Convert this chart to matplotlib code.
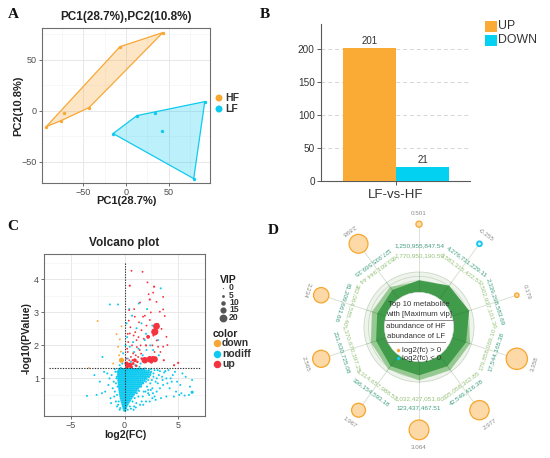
import matplotlib
matplotlib.use("Agg")
import matplotlib.pyplot as plt
import numpy as np
from matplotlib.patches import Circle, Polygon, Rectangle

plt.rcParams['font.family'] = ['Liberation Sans', 'DejaVu Sans']

W, H = 550, 458

# ---------------- panel A data (PCA scores)
hf_pc1 = [-93, -75.6, -72, -43, -7, 43]
hf_pc2 = [-15.7, -9.8, -2, 3, 62.7, 76.5]
lf_pc1 = [-15, 12.8, 33.7, 41.9, 91.9, 79]
lf_pc2 = [-22.5, -4.9, -2, -19.6, 8.8, -66.7]

# ---------------- panel B data
groups = ["LF-vs-HF"]
up_counts = [201]
down_counts = [21]

# ---------------- panel C data (volcano)
red_x = [0.65, 1.68, 2.14, 2.76, 0.49, 2.67, 2.36, 2.98, 3.6, 0.43, 3.29, 3.6, 3.75, 0.96, 1.73,
         2.36, 2.98, 2.82, 1.58, 2.2, 0.49, 1.12, 3.91, 4.0, 3.6, 1.42, 0.8, 3.13, 2.36, 2.82,
         1.89, 0.96, 0.49, 0.19, 3.66, 4.62, 5.0, 1.27, 0.3, 0.6, 0.7, 1.0, 1.2, 1.5, 1.6, 2.0,
         2.6, 2.8, 0.15, 0.35, 0.55, 1.35, 1.9, 2.45, 0.9, 3.0, 0.22, 0.36, 0.65, 0.8, 1.1, 2.5,
         0.25, 0.45, 0.75, 1.05, 1.3, 1.55, 1.8, 2.05, 2.7, 3.05, 3.35, 0.4, 0.85, 1.45, 2.25,
         3.1, 0.3, 1.15, 2.65, 3.45]
red_y = [4.26, 4.23, 3.91, 3.78, 3.81, 3.6, 3.39, 3.32, 3.47, 3.07, 3.02, 3.09, 2.89, 2.87, 2.87,
         2.77, 2.58, 2.41, 2.46, 2.26, 2.36, 2.16, 2.26, 2.01, 1.96, 1.86, 1.76, 1.96, 1.58, 1.58,
         1.55, 1.55, 1.40, 1.45, 1.55, 1.40, 1.47, 1.65, 1.8, 1.65, 2.0, 2.4, 1.5, 2.0, 1.6, 2.0,
         2.0, 1.8, 1.6, 2.1, 2.55, 2.7, 2.9, 3.0, 3.1, 2.15, 1.35, 1.38, 1.35, 1.45, 1.38, 1.5,
         1.9, 1.55, 1.55, 1.7, 2.25, 1.75, 2.2, 2.6, 2.3, 2.45, 1.8, 2.75, 2.3, 3.3, 3.55,
         2.65, 2.35, 1.95, 1.65, 2.5]
red_vip = [2, 2, 2, 3, 3, 2, 3, 2, 2, 2, 2, 2, 2, 2, 2,
           2, 17, 18, 2, 8, 2, 2, 2, 2, 2, 2, 2, 2, 16, 15,
           16, 8, 12, 9, 3, 3, 3, 2, 2, 2, 2, 2, 4, 2, 4, 3,
           2, 2, 2, 2, 2, 2, 2, 2, 2, 2, 6, 6, 5, 5, 4, 7,
           2, 2, 3, 2, 2, 2, 2, 2, 3, 2, 2, 2, 2, 2, 2,
           2, 2, 2, 3, 2]

orange_x = [-2.51, -0.28, -0.74, -0.44, -0.6, -0.34, -0.28, -1.06, -3.32, -0.5]
orange_y = [2.74, 2.58, 2.34, 2.18, 1.96, 1.81, 1.55, 1.45, 1.32, 1.7]
orange_vip = [2, 2, 2, 2, 2, 2, 12, 2, 1, 2]

cyan_sparse_x = [-1.37, -0.6, 1.33, 3.38, 1.58, 1.89, 3.13, 0.49, 1.12, 0.19, 2.67, 2.05, -0.13,
                 -2.05, 0.25, 0.6, 1.0, 1.5, 0.3, -0.2, -0.45, 0.8, 1.3, 2.4, 2.0, 1.7, 0.7, 0.45,
                 2.1, 2.6, 3.2, 1.4, 0.9, 0.1,
                 -0.8, -0.9, -1.0, -1.2, -0.75, -0.85, -1.5, -1.8, -2.1, -2.6, -3.5, -1.3, -0.7,
                 -2.3, -1.6, -0.9, 2.0, 2.3, 2.6, 2.9, 3.2, 2.5, 3.6, 3.9, 4.2, 4.5, 4.8, 5.1,
                 5.3, 5.6, 6.0, 6.3, 5.4, 5.7, 6.3, 2.2, 2.7, 3.0, 3.4, 1.8, 1.6, 2.1, 1.9, 2.4,
                 2.8, 3.3, 3.7, 4.1, 4.4, 1.3, 1.1, 0.9, 0.6, -0.4, -0.55, 4.9, 5.2, 6.1, 2.0,
                 2.6, 3.5, 4.6, 2.9, 3.1, 2.2, 1.75, 2.45,
                 -0.7, -0.65, -0.72, -0.68, -0.8, -1.1, -0.95, -0.6, -0.45, 0.3, 0.5, 0.75, 0.95,
                 1.15, 1.35, 1.55, 1.75, 2.0, 2.3, 2.55, 2.7, 3.0, 3.1, 2.45, 2.65, 1.45, 1.7,
                 1.95, 2.2, 2.35, 2.8, 3.3, 3.55, 3.8, 4.0, 4.3, 4.7, 3.9, 0.85, 1.05, -1.4,
                 -1.9, -1.25, -2.8, -0.35, 0.7, 1.9, 2.25]
cyan_sparse_y = [3.24, 3.24, 3.27, 3.73, 2.67, 2.16, 2.16, 1.96, 2.52, 2.67, 1.86, 1.86, 1.76,
                 1.65, 2.25, 1.5, 1.4, 1.45, 1.6, 1.45, 1.4, 2.1, 1.9, 2.0, 2.35, 1.7, 2.9, 3.1,
                 3.1, 2.6, 1.7, 1.35, 1.8, 2.0,
                 0.3, 0.6, 0.9, 1.1, 1.0, 1.2, 0.8, 0.6, 0.55, 0.5, 0.47, 0.4, 0.15,
                 0.9, 1.15, 1.28, 0.3, 0.5, 0.7, 0.9, 1.1, 1.2, 0.8, 1.0, 0.7, 1.1, 0.6, 0.5,
                 0.55, 0.48, 0.5, 0.58, 1.15, 1.05, 0.95, 0.95, 1.05, 0.6, 0.4, 0.6, 0.3, 0.75,
                 1.0, 0.85, 1.25, 1.22, 1.18, 1.25, 0.9, 0.45, 0.25, 0.15, 0.08, 0.1, 0.3, 0.9,
                 0.8, 0.75, 1.18, 0.4, 1.05, 0.45, 0.35, 0.85, 0.55, 0.2, 0.65,
                 0.5, 0.75, 1.05, 1.2, 0.85, 0.7, 0.45, 0.2, 0.05, 0.05, 0.15, 0.3, 0.4,
                 0.55, 0.62, 0.75, 0.85, 0.9, 1.05, 0.95, 1.15, 1.0, 1.25, 1.28, 0.55, 0.2, 0.45,
                 0.6, 0.65, 0.3, 0.45, 0.7, 0.95, 1.22, 0.85, 1.0, 1.2, 0.45, 0.05, 0.12, 1.0,
                 1.2, 0.25, 1.1, 1.32, 1.33, 1.3, 1.25]

# dense cloud of non-significant metabolites, read row by row: (-log10 p, [log2 FC ...])
cyan_core_rows = [
    (0.03, [-0.02, 0.05]),
    (0.09, [-0.08, 0.02, 0.11]),
    (0.15, [-0.14, -0.03, 0.08, 0.18]),
    (0.21, [-0.18, -0.06, 0.06, 0.17, 0.28]),
    (0.27, [-0.24, -0.11, 0.02, 0.14, 0.26, 0.38]),
    (0.33, [-0.28, -0.15, -0.02, 0.11, 0.24, 0.37, 0.5]),
    (0.39, [-0.33, -0.19, -0.05, 0.08, 0.21, 0.34, 0.47, 0.62]),
    (0.45, [-0.37, -0.23, -0.09, 0.05, 0.18, 0.31, 0.45, 0.59, 0.74]),
    (0.51, [-0.4, -0.26, -0.12, 0.02, 0.16, 0.29, 0.43, 0.57, 0.71, 0.86]),
    (0.57, [-0.43, -0.29, -0.15, -0.01, 0.13, 0.27, 0.41, 0.55, 0.69, 0.84, 1.0]),
    (0.63, [-0.46, -0.32, -0.18, -0.04, 0.1, 0.24, 0.38, 0.52, 0.66, 0.81, 0.96, 1.12]),
    (0.69, [-0.48, -0.34, -0.2, -0.06, 0.08, 0.22, 0.36, 0.5, 0.64, 0.79, 0.94, 1.1, 1.26]),
    (0.75, [-0.5, -0.36, -0.22, -0.08, 0.06, 0.2, 0.34, 0.48, 0.62, 0.77, 0.92, 1.08, 1.24, 1.4]),
    (0.81, [-0.52, -0.38, -0.24, -0.1, 0.04, 0.18, 0.32, 0.46, 0.6, 0.75, 0.9, 1.06, 1.22, 1.38, 1.55]),
    (0.87, [-0.54, -0.4, -0.26, -0.12, 0.02, 0.16, 0.3, 0.44, 0.58, 0.73, 0.88, 1.04, 1.2, 1.36,
            1.53, 1.7]),
    (0.93, [-0.56, -0.42, -0.28, -0.14, 0.0, 0.14, 0.28, 0.42, 0.56, 0.71, 0.86, 1.02, 1.18, 1.34,
            1.51, 1.68, 1.86]),
    (0.99, [-0.57, -0.43, -0.29, -0.15, -0.01, 0.13, 0.27, 0.41, 0.55, 0.7, 0.85, 1.0, 1.16, 1.32,
            1.49, 1.66, 1.84, 2.02]),
    (1.05, [-0.58, -0.44, -0.3, -0.16, -0.02, 0.12, 0.26, 0.4, 0.54, 0.69, 0.84, 0.99, 1.15, 1.31,
            1.47, 1.64, 1.82, 2.0, 2.2]),
    (1.11, [-0.59, -0.45, -0.31, -0.17, -0.03, 0.11, 0.25, 0.39, 0.53, 0.68, 0.83, 0.98, 1.14, 1.3,
            1.46, 1.63, 1.8, 1.98, 2.17, 2.38]),
    (1.17, [-0.58, -0.44, -0.3, -0.16, -0.02, 0.12, 0.26, 0.4, 0.54, 0.69, 0.84, 0.99, 1.15, 1.31,
            1.47, 1.64, 1.81, 1.99, 2.18, 2.4]),
    (1.23, [-0.55, -0.41, -0.27, -0.13, 0.01, 0.15, 0.29, 0.43, 0.57, 0.72, 0.87, 1.02, 1.18, 1.34,
            1.51, 1.68, 1.86, 2.05, 2.26]),
    (1.28, [-0.5, -0.36, -0.22, -0.08, 0.06, 0.2, 0.34, 0.48, 0.63, 0.78, 0.93, 1.09, 1.25, 1.42,
            1.6, 1.8]),
]

vip_legend = [0, 5, 10, 15, 20]

# ---------------- panel D data (top 10 metabolites by VIP), clockwise from top
spoke_fc = [0.501, -0.255, 0.179, 3.358, 2.977, 3.064, 1.967, 2.565, 2.234, 2.898]
abund_hf = ["1,250,955,847.54", "4,276,731,229.11", "2,339,298,583.69", "17,544,165.38",
            "42,549,416.38", "123,437,467.51", "336,154,593.18", "231,630,725.08",
            "81,209,661.66", "127,935,569.35"]
abund_lf = ["1,770,950,190.59", "3,583,315,422.57", "2,502,937,101.36", "179,858,069.10",
            "335,058,362.85", "1,032,427,051.60", "1,314,657,988.52", "1,370,670,397.25",
            "382,064,585.40", "953,801,944.44"]
# relative radar levels (fraction of the outer ring)
radar_hf = [0.85, 0.93, 0.96, 0.90, 0.88, 0.88, 0.88, 0.82, 0.80, 0.83]
radar_lf = [0.83, 0.90, 0.93, 0.98, 0.97, 0.97, 0.95, 0.92, 0.90, 0.90]

ORANGE = '#f8a735'
CYAN = '#0fcaf0'
RED = '#f5333f'
TICK_C = '#4d4d4d'


def px_axes(fig, left, top, right, bottom):
    return fig.add_axes([left / W, 1 - bottom / H, (right - left) / W, (bottom - top) / H])


def convex_hull(xs, ys):
    pts = sorted(zip(xs, ys))

    def cross(o, a, b):
        return (a[0] - o[0]) * (b[1] - o[1]) - (a[1] - o[1]) * (b[0] - o[0])

    lower, upper = [], []
    for p in pts:
        while len(lower) >= 2 and cross(lower[-2], lower[-1], p) <= 0:
            lower.pop()
        lower.append(p)
    for p in reversed(pts):
        while len(upper) >= 2 and cross(upper[-2], upper[-1], p) <= 0:
            upper.pop()
        upper.append(p)
    return lower[:-1] + upper[:-1]


def gg_theme(ax):
    ax.set_facecolor('white')
    ax.grid(True, which='major', color='#e4e4e4', lw=0.6, zorder=0)
    ax.grid(True, which='minor', color='#f2f2f2', lw=0.4, zorder=0)
    ax.set_axisbelow(True)
    for s in ax.spines.values():
        s.set_color('#6e6e6e')
        s.set_linewidth(0.8)
    ax.tick_params(which='major', length=2.5, width=0.6, color='#555555',
                   labelsize=6.5, labelcolor=TICK_C, pad=1.2)
    ax.tick_params(which='minor', length=0)


def vip_size(v):
    d = 1.2 + 0.33 * v          # marker diameter in pixels
    return (d * 0.72) ** 2


fig = plt.figure(figsize=(W / 100, H / 100), dpi=100)
fig.patch.set_facecolor('white')

# ================= Panel A
axA = px_axes(fig, 42, 28, 210, 183)
gg_theme(axA)
for xs, ys, col in [(hf_pc1, hf_pc2, ORANGE), (lf_pc1, lf_pc2, CYAN)]:
    hull = convex_hull(xs, ys)
    axA.add_patch(Polygon(hull, closed=True, fc=col, alpha=0.28, ec='none', zorder=2))
    axA.add_patch(Polygon(hull, closed=True, fc='none', ec=col, lw=0.9, zorder=3))
    axA.scatter(xs, ys, s=6, color=col, zorder=4, linewidths=0)
axA.set_xlim(-98, 98)
axA.set_ylim(-71, 81)
axA.set_xticks([-50, 0, 50])
axA.set_yticks([-50, 0, 50])
axA.set_xticks([-75, -25, 25, 75], minor=True)
axA.set_yticks([-25, 25, 75], minor=True)
fig.text(126 / W, 1 - 17 / H, "PC1(28.7%),PC2(10.8%)", ha='center', va='center',
         fontsize=8.5, fontweight='bold', color='#222222')
fig.text(126 / W, 1 - 201 / H, "PC1(28.7%)", ha='center', va='center',
         fontsize=8, fontweight='bold', color='#222222')
fig.text(18 / W, 1 - 106 / H, "PC2(10.8%)", ha='center', va='center', rotation=90,
         fontsize=8, fontweight='bold', color='#222222')

# ================= Panel B
axB = px_axes(fig, 321, 24, 470, 181)
xpos = np.arange(len(groups))
bw = 0.5
axB.bar(xpos - bw / 2, up_counts, width=bw, color='#f9ab35', zorder=3, label='UP')
axB.bar(xpos + bw / 2, down_counts, width=bw, color='#03d1f2', zorder=3, label='DOWN')
for i in range(len(groups)):
    axB.text(xpos[i] - bw / 2, up_counts[i] + 3, str(up_counts[i]), ha='center', va='bottom',
             fontsize=7, color='#333333')
    axB.text(xpos[i] + bw / 2, down_counts[i] + 3, str(down_counts[i]), ha='center', va='bottom',
             fontsize=7, color='#333333')
axB.set_xlim(-0.708, 0.698)
axB.set_ylim(0, 238)
axB.set_yticks([0, 50, 100, 150, 200])
axB.set_xticks(xpos)
axB.set_xticklabels(groups, fontsize=9.5, color='#333333')
axB.yaxis.grid(True, ls=(0, (4, 3)), color='#d6d6d6', lw=0.7)
axB.set_axisbelow(True)
for s in ['top', 'right']:
    axB.spines[s].set_visible(False)
for s in ['left', 'bottom']:
    axB.spines[s].set_color('#5a5a5a')
    axB.spines[s].set_linewidth(0.8)
axB.tick_params(axis='y', length=3, width=0.7, color='#5a5a5a', labelsize=7.2,
                labelcolor='#333333', pad=1.5)
axB.tick_params(axis='x', length=3, width=0.7, color='#5a5a5a', pad=3)

# ================= Panel C
axC = px_axes(fig, 44, 254, 205, 416)
gg_theme(axC)
cyan_x = list(cyan_sparse_x)
cyan_y = list(cyan_sparse_y)
cyan_vip = [2.5] * len(cyan_x)
cyan_vip[cyan_sparse_x.index(6.3, 60)] = 6
for yv, xs in cyan_core_rows:
    cyan_x += xs
    cyan_y += [yv] * len(xs)
    cyan_vip += [3.8] * len(xs)
axC.scatter(cyan_x, cyan_y, s=[vip_size(v) for v in cyan_vip], color=CYAN, linewidths=0, zorder=3)
axC.scatter(orange_x, orange_y, s=[vip_size(v) for v in orange_vip], color=ORANGE,
            linewidths=0, zorder=4)
axC.scatter(red_x, red_y, s=[vip_size(v) for v in red_vip], color=RED, linewidths=0, zorder=4)
axC.plot([0, 0], [0.0, 4.5], ls=(0, (1.2, 1.2)), color='#333333', lw=0.8, zorder=5)
axC.plot([-7, 7], [1.3, 1.3], ls=(0, (1.2, 1.2)), color='#333333', lw=0.8, zorder=5)
axC.set_xlim(-7.5, 7.5)
axC.set_ylim(-0.14, 4.77)
axC.set_xticks([-5, 0, 5])
axC.set_yticks([1, 2, 3, 4])
axC.set_xticks([-7.5, -2.5, 2.5, 7.5], minor=True)
axC.set_yticks([0.5, 1.5, 2.5, 3.5, 4.5], minor=True)
axC.tick_params(axis='x', pad=0.8)
fig.text(124 / W, 1 - 243 / H, "Volcano plot", ha='center', va='center',
         fontsize=8.5, fontweight='bold', color='#222222')
fig.text(125 / W, 1 - 434.5 / H, "log2(FC)", ha='center', va='center',
         fontsize=7.6, fontweight='bold', color='#222222')
fig.text(27 / W, 1 - 338 / H, "-log10(PValue)", ha='center', va='center', rotation=90,
         fontsize=7.6, fontweight='bold', color='#222222')

# ================= Panel D
cx, cy, R = 419, 327, 55.0
axD = px_axes(fig, 285, 200, 550, 458)
axD.set_xlim((285 - cx) / R, (550 - cx) / R)
axD.set_ylim((cy - 458) / R, (cy - 200) / R)
axD.axis('off')

n = len(spoke_fc)
theta = np.deg2rad(90 - 36 * np.arange(n))
axD.add_patch(Circle((0, 0), 1.0, fc='#eef3ec', ec='none', zorder=1))
for rr in [0.68, 0.76, 0.84, 0.92, 1.0]:
    axD.add_patch(Circle((0, 0), rr, fc='none', ec='#cbd9c7', lw=0.6, zorder=1.5))

rl = np.array(radar_lf)
rh = np.array(radar_hf)
axD.add_patch(Polygon(np.c_[rl * np.cos(theta), rl * np.sin(theta)], closed=True,
                      fc='#93c88e', ec='none', alpha=0.95, zorder=2))
axD.add_patch(Polygon(np.c_[rh * np.cos(theta), rh * np.sin(theta)], closed=True,
                      fc='#3c9946', ec='none', alpha=0.95, zorder=3))

bub_r = 1.87
for i in range(n):
    t = theta[i]
    deg = 90 - 36 * i
    fc = spoke_fc[i]
    d = (3.5 + 5.3 * abs(fc)) / R
    # spoke
    axD.plot([0, np.cos(t)], [0, np.sin(t)], color='#2d6e33', lw=0.5, alpha=0.35, zorder=4)
    axD.plot([np.cos(t), (bub_r - d / 2) * np.cos(t)], [np.sin(t), (bub_r - d / 2) * np.sin(t)],
             color='#d3ddcd', lw=0.6, zorder=1)
    # bubble
    if fc > 0:
        axD.add_patch(Circle((bub_r * np.cos(t), bub_r * np.sin(t)), d / 2, fc='#fdd9a8',
                             ec='#f6a62c', lw=0.9, zorder=5))
    else:
        axD.add_patch(Circle((bub_r * np.cos(t), bub_r * np.sin(t)), d / 2, fc='#c9f2fc',
                             ec='#15c6ee', lw=1.3, zorder=5))
    rot = deg - 90 if deg > 0 else deg + 90
    if deg == -90:
        rot = 0
    rv = bub_r + d / 2 + 8 / R
    axD.text(rv * np.cos(t), rv * np.sin(t), f"{fc:.3f}", rotation=rot, rotation_mode='anchor',
             ha='center', va='center', fontsize=4.5, color='#8a8a8a', zorder=6)
    axD.text(1.47 * np.cos(t), 1.47 * np.sin(t), abund_hf[i], rotation=rot,
             rotation_mode='anchor', ha='center', va='center', fontsize=4.6,
             color='#3f9f80', zorder=6)
    axD.text(1.30 * np.cos(t), 1.30 * np.sin(t), abund_lf[i], rotation=rot,
             rotation_mode='anchor', ha='center', va='center', fontsize=4.6,
             color='#96c27a', zorder=6)

axD.add_patch(Circle((0, 0), 0.63, fc='white', ec='#e0e0e0', lw=0.4, zorder=7))


def dy(py):
    return (cy - py) / R


def dx(px):
    return (px - cx) / R


txt = dict(ha='center', va='center', fontsize=5.6, color='#333333', zorder=8)
axD.text(0, dy(305), "Top 10 metabolite", **txt)
axD.text(0, dy(314), "with [Maximum vip]", **txt)
axD.plot([dx(385), dx(455)], [dy(319.5), dy(319.5)], color='#777777', lw=0.6, zorder=8)
axD.text(dx(416), dy(327), "abundance of HF", **txt)
axD.text(dx(416), dy(336), "abundance of LF", **txt)
axD.plot([dx(385), dx(445)], [dy(342), dy(342)], color='#777777', lw=0.6, zorder=8)
axD.scatter([dx(398)], [dy(350)], s=6, color=ORANGE, linewidths=0, zorder=8)
axD.scatter([dx(398)], [dy(358)], s=6, color=CYAN, linewidths=0, zorder=8)
axD.text(dx(402), dy(350), "log2(fc) > 0", ha='left', va='center', fontsize=5.6,
         color='#333333', zorder=8)
axD.text(dx(402), dy(358), "log2(fc) < 0", ha='left', va='center', fontsize=5.6,
         color='#333333', zorder=8)

# ================= legends and panel letters in pixel coordinates
ov = fig.add_axes([0, 0, 1, 1], zorder=10)
ov.set_xlim(0, W)
ov.set_ylim(H, 0)
ov.axis('off')
ov.patch.set_alpha(0)

# legend A
ov.scatter([219, 219], [98, 109], s=(7 * 0.72) ** 2, color=[ORANGE, CYAN], linewidths=0)
ov.text(225, 98, "HF", ha='left', va='center', fontsize=7.5, fontweight='bold', color='#333333')
ov.text(225, 109, "LF", ha='left', va='center', fontsize=7.5, fontweight='bold', color='#333333')

# legend B
ov.add_patch(Rectangle((485, 21), 12, 11, fc='#f9ab35', ec='none'))
ov.add_patch(Rectangle((485, 35), 12, 11, fc='#03d1f2', ec='none'))
ov.text(498, 26, "UP", ha='left', va='center', fontsize=8.8, color='#333333')
ov.text(498, 40, "DOWN", ha='left', va='center', fontsize=8.8, color='#333333')

# legend C
ov.text(220, 280, "VIP", ha='left', va='center', fontsize=7.5, fontweight='bold', color='#222222')
vip_y = [288, 295.5, 302.5, 310, 318]
for v, yy in zip(vip_legend, vip_y):
    ov.scatter([223], [yy], s=vip_size(v), color='#555555', linewidths=0)
    ov.text(229, yy, str(v), ha='left', va='center', fontsize=6.2, fontweight='bold',
            color='#333333')
ov.text(213, 334, "color", ha='left', va='center', fontsize=7.5, fontweight='bold',
        color='#222222')
for lab, col, yy in [("down", ORANGE, 343), ("nodiff", CYAN, 354), ("up", RED, 364)]:
    ov.scatter([217], [yy], s=(7.5 * 0.72) ** 2, color=col, linewidths=0)
    ov.text(222, yy, lab, ha='left', va='center', fontsize=7.5, fontweight='bold',
            color='#333333')

for lab, x, y in [("A", 13, 15), ("B", 265, 15), ("C", 13, 226), ("D", 273, 230)]:
    ov.text(x, y, lab, ha='center', va='center', fontsize=11, fontweight='bold',
            family='Liberation Serif', color='#111111')

fig.savefig("out.png", dpi=100, facecolor='white')
